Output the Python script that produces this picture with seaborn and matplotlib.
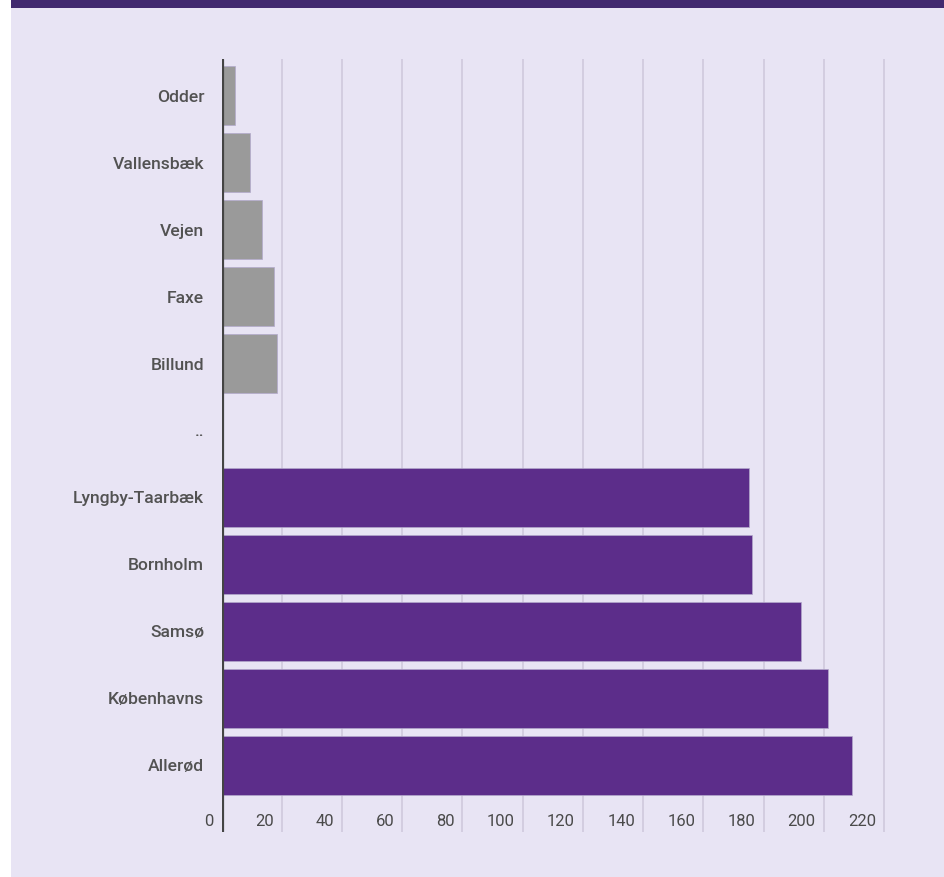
import pandas as pd
import matplotlib.pyplot as plt
import matplotlib.transforms as mtransforms
from matplotlib.patches import Rectangle
import seaborn as sns

# Data
municipalities = ['Odder', 'Vallensbæk', 'Vejen', 'Faxe', 'Billund', '..',
                  'Lyngby-Taarbæk', 'Bornholm', 'Samsø', 'Københavns', 'Allerød']
values = [4.4, 9.3, 13.3, 17.3, 18.4, 0, 175.3, 176.3, 192.3, 201.5, 209.3]
groups = ['low', 'low', 'low', 'low', 'low', 'low',
          'high', 'high', 'high', 'high', 'high']
x_ticks = [0, 20, 40, 60, 80, 100, 120, 140, 160, 180, 200, 220]

df = pd.DataFrame({'kommune': municipalities, 'value': values, 'group': groups})

sns.set_theme(style='white')
plt.rcParams['font.family'] = ['Roboto', 'DejaVu Sans']

W, H = 944, 877
fig = plt.figure(figsize=(W / 100, H / 100), dpi=100, facecolor='white')

# background panel and top band
fig.patches.append(Rectangle((11 / W, 0), 1 - 11 / W, 1, transform=fig.transFigure,
                             facecolor='#e8e4f4', edgecolor='none', zorder=-2))
fig.patches.append(Rectangle((11 / W, 1 - 8 / H), 1 - 11 / W, 8 / H, transform=fig.transFigure,
                             facecolor='#41296f', edgecolor='none', zorder=-1))

x0_px = 221.5
px_per_unit = (884 - 221.5) / 220
xmax = 222
ax = fig.add_axes([x0_px / W, (H - 832) / H, xmax * px_per_unit / W, (832 - 59) / H])
ax.set_facecolor('none')

sns.barplot(data=df, y='kommune', x='value', hue='group', order=municipalities,
            palette={'low': '#9a9a9a', 'high': '#5c2d8a'}, saturation=1, dodge=False,
            width=0.88, orient='h', edgecolor='#b3a9cc', linewidth=0.5, legend=False,
            ax=ax, zorder=3)

ax.set_xlim(0, xmax)
ax.set_ylim(11.0, -0.55)
ax.set_xlabel('')
ax.set_ylabel('')

for s in ax.spines.values():
    s.set_visible(False)

# gridlines
for t in x_ticks[1:]:
    ax.axvline(t, color='#cfc9dc', linewidth=1.2, zorder=1)
ax.axvline(0, color='#444444', linewidth=2.3, zorder=5)

ax.set_xticks([])
ax.tick_params(axis='y', length=0, pad=12.5)
ax.set_yticks(range(len(municipalities)))
ax.set_yticklabels(municipalities, fontsize=12.6, color='#525252', fontweight='medium')

# x tick labels sit left of their gridline, inside the plot area
offset = mtransforms.ScaledTranslation(-8 / 100, 0, fig.dpi_scale_trans)
for t in x_ticks:
    ax.text(t, 10.84, str(t), ha='right', va='center', fontsize=12,
            color='#4a4a4a', transform=ax.transData + offset)

plt.savefig('out.png', dpi=100, facecolor=fig.get_facecolor())
